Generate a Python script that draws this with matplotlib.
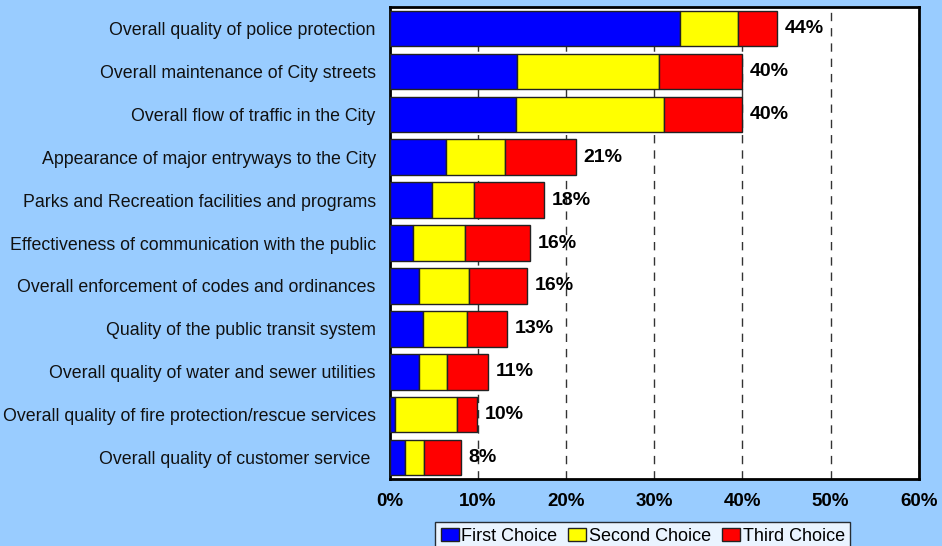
import matplotlib
matplotlib.use('Agg')
import matplotlib.pyplot as plt
from matplotlib.patches import Patch

categories = [
    "Overall quality of police protection",
    "Overall maintenance of City streets",
    "Overall flow of traffic in the City",
    "Appearance of major entryways to the City",
    "Parks and Recreation facilities and programs",
    "Effectiveness of communication with the public",
    "Overall enforcement of codes and ordinances",
    "Quality of the public transit system",
    "Overall quality of water and sewer utilities",
    "Overall quality of fire protection/rescue services",
    "Overall quality of customer service ",
]
first = [32.9, 14.5, 14.3, 6.4, 4.8, 2.7, 3.3, 3.8, 3.3, 0.6, 1.8]
second = [6.65, 16.05, 16.8, 6.7, 4.8, 5.9, 5.7, 5.0, 3.2, 7.1, 2.1]
third = [4.35, 9.45, 8.9, 8.0, 7.9, 7.3, 6.6, 4.5, 4.7, 2.2, 4.2]
totals = ["44%", "40%", "40%", "21%", "18%", "16%", "16%", "13%", "11%", "10%", "8%"]
series_names = ["First Choice", "Second Choice", "Third Choice"]
colors = ["#0000FF", "#FFFF00", "#FF0000"]
xticks = [0, 10, 20, 30, 40, 50, 60]

plt.rcParams['font.family'] = ['Liberation Sans', 'DejaVu Sans']

fig = plt.figure(figsize=(9.42, 5.46), dpi=100, facecolor="#99CCFF")
ax = fig.add_axes([0.4135, 0.1227, 0.562, 0.8643])
ax.set_facecolor("white")

y = list(range(len(categories)))
left = [0] * len(categories)
for vals, col in zip([first, second, third], colors):
    ax.barh(y, vals, left=left, height=0.83, color=col,
            edgecolor="#222222", linewidth=1, zorder=3)
    left = [a + b for a, b in zip(left, vals)]

for yi, end, lab in zip(y, left, totals):
    ax.annotate(lab, (end, yi), xytext=(5.5, 0), textcoords="offset points",
                va="center", ha="left", fontsize=14, fontweight="bold", zorder=4)

ax.set_xlim(0, 60)
ax.set_ylim(len(categories) - 0.5, -0.5)
ax.set_xticks(xticks)
ax.set_xticklabels([f"{t}%" for t in xticks], fontsize=13.5, fontweight="bold")
ax.set_yticks(y)
ax.set_yticklabels(categories, fontsize=12.8, color="#111111")
ax.tick_params(axis="x", length=0, pad=10)
ax.tick_params(axis="y", length=0, pad=10)
ax.xaxis.grid(True, linestyle=(0, (6, 5)), color="#333333", linewidth=1, zorder=1)
ax.set_axisbelow(True)
for s in ax.spines.values():
    s.set_linewidth(2)
    s.set_color("black")

handles = [Patch(facecolor=c, edgecolor="#222222", linewidth=1) for c in colors]
leg = fig.legend(handles, series_names, loc="upper center", ncol=3,
                 bbox_to_anchor=(0.6824, 0.0435), fontsize=13, frameon=True,
                 fancybox=False, edgecolor="black", handlelength=1.0,
                 handleheight=0.8, handletextpad=0.15, columnspacing=0.6,
                 borderpad=0.3, borderaxespad=0)
leg.get_frame().set_linewidth(1)

fig.savefig("out.png", dpi=100, facecolor=fig.get_facecolor())
